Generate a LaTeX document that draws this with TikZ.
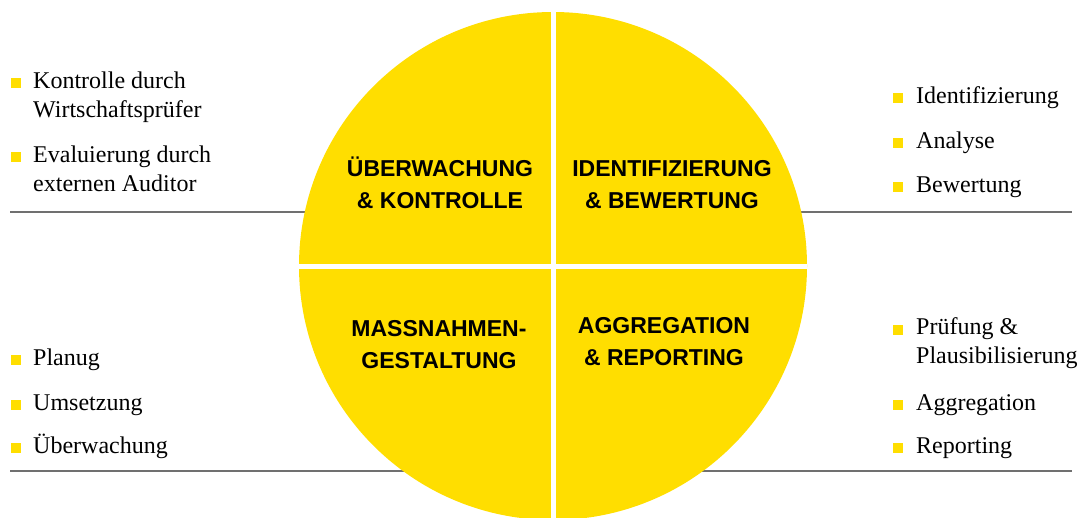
\documentclass[tikz,border=0pt]{standalone}
\usepackage{fontspec}
\setmainfont{Liberation Serif}
\setsansfont{Liberation Sans}
\definecolor{ey}{HTML}{FFDE00}
\definecolor{rulegray}{HTML}{707070}
\begin{document}
\begin{tikzpicture}[x=1pt,y=-1pt,
  item/.style={anchor=base west, inner sep=0, align=left, font=\fontsize{24}{29}\selectfont},
  lab/.style={anchor=base, inner sep=0, align=center, font=\sffamily\bfseries\fontsize{23}{32}\selectfont},
  sq/.style={fill=ey, minimum size=10pt, inner sep=0, anchor=south west},
  sepline/.style={draw=rulegray, line width=1.5pt},
  gap/.style={draw=white, line width=5pt}]
\useasboundingbox (0,0) rectangle (1082,517);
\clip (0,0) rectangle (1082,517);

% separator lines
\coordinate (tl) at (10,212);
\coordinate (tr) at (1072,212);
\coordinate (bl) at (10,471);
\coordinate (br) at (1072,471);
\coordinate (mt) at (553,212);
\coordinate (mb) at (553,471);
\draw[sepline] (tl) -- (mt);
\draw[sepline] (mt) -- (tr);
\draw[sepline] (bl) -- (mb);
\draw[sepline] (mb) -- (br);

% circle
\node[circle, fill=ey, minimum size=508pt, inner sep=0] (c) at (553,266) {};
\draw[gap] (c.north) -- (c.south);
\draw[gap] (c.west) -- (c.east);

% quadrant labels (anchored at the baseline of the last line)
\node[lab] (q1) at (440,208) {ÜBERWACHUNG\\\& KONTROLLE};
\node[lab] (q2) at (672,208) {IDENTIFIZIERUNG\\\& BEWERTUNG};
\node[lab] (q3) at (439,368) {MASSNAHMEN-\\GESTALTUNG};
\node[lab] (q4) at (664,365) {AGGREGATION\\\& REPORTING};

% left top items
\node[sq] (s1) at (11,88) {};
\node[item] (t1) at (33,117) {Kontrolle durch\\Wirtschaftsprüfer};
\node[sq] (s2) at (11,162) {};
\node[item] (t2) at (33,191) {Evaluierung durch\\externen Auditor};

% right top items
\node[sq] (s3) at (893,103) {};
\node[item] (t3) at (916,103) {Identifizierung};
\node[sq] (s4) at (893,148) {};
\node[item] (t4) at (916,148) {Analyse};
\node[sq] (s5) at (893,192) {};
\node[item] (t5) at (916,192) {Bewertung};

% left bottom items
\node[sq] (s6) at (11,365) {};
\node[item] (t6) at (33,365) {Planug};
\node[sq] (s7) at (11,410) {};
\node[item] (t7) at (33,410) {Umsetzung};
\node[sq] (s8) at (11,453) {};
\node[item] (t8) at (33,453) {Überwachung};

% right bottom items
\node[sq] (s9) at (893,335) {};
\node[item] (t9) at (916,363) {Prüfung \&\\Plausibilisierung};
\node[sq] (s10) at (893,410) {};
\node[item] (t10) at (916,410) {Aggregation};
\node[sq] (s11) at (893,453) {};
\node[item] (t11) at (916,453) {Reporting};
\end{tikzpicture}
\end{document}
